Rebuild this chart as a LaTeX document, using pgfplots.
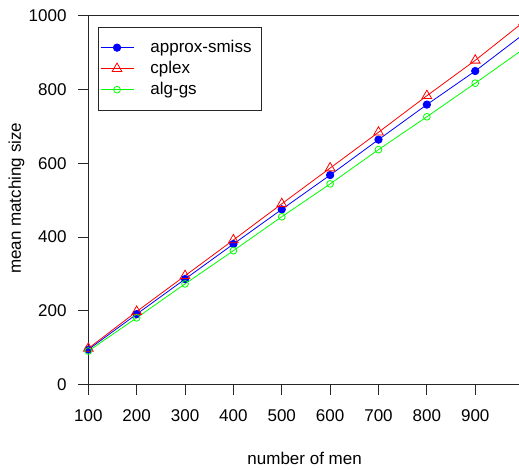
\documentclass[border=0pt]{standalone}
\usepackage{fontspec}
\setmainfont{Liberation Sans}
\usepackage{pgfplots}
\pgfplotsset{compat=1.18}

\definecolor{rblue}{RGB}{0,0,255}
\definecolor{rred}{RGB}{255,0,0}
\definecolor{rgreen}{RGB}{0,255,0}

\begin{document}
\begin{tikzpicture}
\begin{axis}[
  at={(88.3bp,85.4bp)}, anchor=south west,
  scale only axis, width=435.3bp, height=368.9bp,
  xmin=100, xmax=1000, ymin=0, ymax=1000,
  xtick={100,200,...,900}, ytick={0,200,...,1000},
  tick pos=left, tick align=outside,
  major tick length=10bp,
  tick style={black!85, line width=1bp},
  axis line style={black!85, line width=0.9bp},
  font=\fontsize{17bp}{20bp}\selectfont,
  /pgf/number format/assume math mode=true,
  /pgf/number format/1000 sep={},
  xticklabel style={anchor=north, inner sep=0pt, yshift=-15bp},
  yticklabel style={anchor=east, inner sep=0pt, xshift=-11.6bp},
  xlabel={number of men},
  ylabel={mean matching size},
  every axis x label/.style={at={(axis description cs:0.497,-0.2179)}, anchor=base},
  every axis y label/.style={at={(axis description cs:-0.155,0.505)}, anchor=base, rotate=90},
  legend style={at={(axis description cs:0,1)}, anchor=north west,
    xshift=9.4bp, yshift=-11bp, draw=black!85, line width=0.9bp,
    inner xsep=2bp, inner ysep=10bp,
    nodes={inner xsep=2bp, inner ysep=2.5bp, text height=12.5bp, text depth=3.5bp},
    /tikz/every odd column/.append style={column sep=14.5bp},
    /tikz/every even column/.append style={text width=107bp}},
  legend cell align=left,
  legend image code/.code={%
    \draw[#1, mark=none] (0bp,0bp) -- (33bp,0bp);
    \draw[#1] plot coordinates {(16.5bp,0bp)};},
  every axis plot/.append style={line width=0.8bp},
]
\addplot[rblue, mark=*, mark size=3.7bp, mark options={fill=rblue}] coordinates {
  (100,95) (200,191) (300,286) (400,381) (500,475)
  (600,568) (700,664) (800,759) (900,850) (1000,950)};
\addlegendentry{approx-smiss}
\addplot[rred, mark=triangle, mark size=5.6bp] coordinates {
  (100,98) (200,198) (300,295) (400,392) (500,490)
  (600,587) (700,684) (800,783) (900,879) (1000,983)};
\addlegendentry{cplex}
\addplot[rgreen, mark=o, mark size=3.4bp] coordinates {
  (100,91) (200,181) (300,273) (400,363) (500,455)
  (600,544) (700,637) (800,726) (900,817) (1000,910)};
\addlegendentry{alg-gs}
\end{axis}
% page: 519 x 470, the right end of the axis lies past it
\pgfresetboundingbox
\path[use as bounding box] (0,0) rectangle (519bp,470bp);
\end{tikzpicture}
\end{document}
